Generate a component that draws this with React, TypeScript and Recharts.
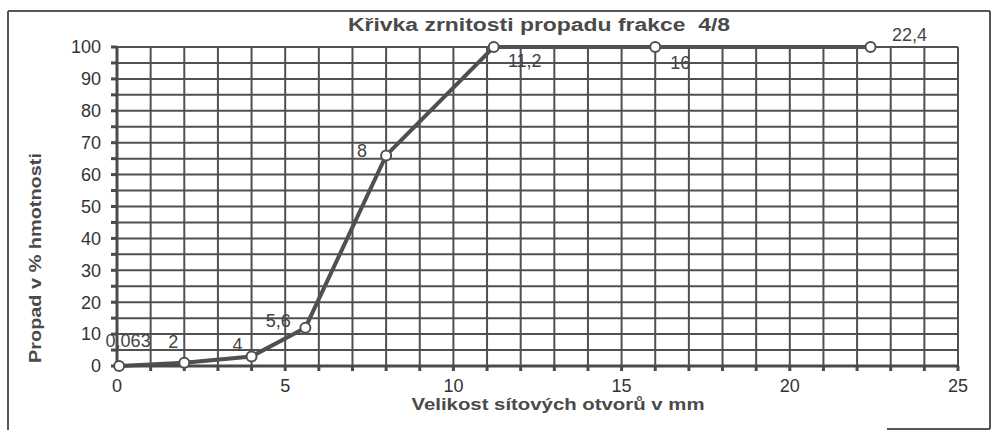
import React from 'react';
import {
  LineChart,
  Line,
  XAxis,
  YAxis,
  CartesianGrid,
  LabelList
} from 'recharts';

// sieve sizes (mm) and passing percentage for fraction 4/8
const sieveSizes = [0.063, 2, 4, 5.6, 8, 11.2, 16, 22.4];
const sieveLabels = ['0,063', '2', '4', '5,6', '8', '11,2', '16', '22,4'];
const passing = [0, 1, 3, 12, 66, 100, 100, 100];

const xTicks = [0, 1, 2, 3, 4, 5, 6, 7, 8, 9, 10, 11, 12, 13, 14, 15, 16, 17, 18, 19, 20, 21, 22, 23, 24, 25];
const yTicks = [0, 5, 10, 15, 20, 25, 30, 35, 40, 45, 50, 55, 60, 65, 70, 75, 80, 85, 90, 95, 100];

const chartData = sieveSizes.map((size, i) => ({
  size,
  pass: passing[i],
  label: sieveLabels[i]
}));

// where each point label sits relative to its marker
const labelShift = [
  [9, -25],
  [-11, -21],
  [-14, -11],
  [-27, -7],
  [-24, -4],
  [31, 14],
  [25, 16],
  [39, -12]
];

const FONT = "Arial, 'Liberation Sans', sans-serif";
const INK = '#4a4a4a';

const renderPointLabel = (props: any) => {
  const { x, y, value, index } = props;
  const [dx, dy] = labelShift[index] || [0, -12];
  return (
    <text
      x={x + dx}
      y={y + dy}
      textAnchor="middle"
      dominantBaseline="central"
      fill="#444"
      fontSize={18}
      fontFamily={FONT}
    >
      {value}
    </text>
  );
};

export default function App() {
  return (
    <div style={{ position: 'absolute', left: 0, top: 0, width: 1002, height: 430, background: '#fff' }}>
      <LineChart
        width={1002}
        height={430}
        data={chartData}
        margin={{ top: 47, right: 44, bottom: 34, left: 57 }}
      >
        <CartesianGrid stroke="#505050" strokeWidth={2} />
        <XAxis
          dataKey="size"
          type="number"
          domain={[0, 25]}
          ticks={xTicks}
          interval={0}
          height={30}
          tickFormatter={(v) => (v % 5 === 0 ? `${v}` : '')}
          tick={{ fill: '#333', fontSize: 18, fontFamily: FONT }}
          tickSize={5}
          tickMargin={8}
          stroke={INK}
          strokeWidth={3}
        />
        <YAxis
          type="number"
          domain={[0, 100]}
          ticks={yTicks}
          interval={0}
          width={60}
          tickFormatter={(v) => (v % 10 === 0 ? `${v}` : '')}
          tick={{ fill: '#333', fontSize: 18, fontFamily: FONT }}
          tickSize={6}
          tickMargin={10}
          stroke={INK}
          strokeWidth={3}
        />
        <Line
          dataKey="pass"
          type="linear"
          stroke="#505050"
          strokeWidth={4}
          dot={{ r: 5, fill: '#fff', stroke: '#505050', strokeWidth: 2 }}
          activeDot={false}
          isAnimationActive={false}
        >
          <LabelList dataKey="label" content={renderPointLabel} />
        </Line>
      </LineChart>

      <svg
        width={1002}
        height={430}
        style={{ position: 'absolute', left: 0, top: 0, pointerEvents: 'none' }}
      >
        <g stroke="#555" strokeWidth={2} fill="none">
          <line x1={8} y1={11} x2={8} y2={430} />
          <line x1={8} y1={11} x2={990} y2={11} />
          <line x1={990} y1={11} x2={990} y2={429} />
          <line x1={887} y1={429} x2={990} y2={429} />
        </g>
        <text
          x={539}
          y={25}
          textAnchor="middle"
          dominantBaseline="central"
          fontSize={18}
          fontWeight="bold"
          fontFamily={FONT}
          fill={INK}
          textLength={382}
          lengthAdjust="spacingAndGlyphs"
          style={{ whiteSpace: 'pre' }}
        >
          Křivka zrnitosti propadu frakce  4/8
        </text>
        <text
          x={558}
          y={404}
          textAnchor="middle"
          dominantBaseline="central"
          fontSize={17}
          fontWeight="bold"
          fontFamily={FONT}
          fill={INK}
          textLength={293}
          lengthAdjust="spacingAndGlyphs"
        >
          Velikost sítových otvorů v mm
        </text>
        <text
          transform="translate(35,258) rotate(-90)"
          textAnchor="middle"
          dominantBaseline="central"
          fontSize={17}
          fontWeight="bold"
          fontFamily={FONT}
          fill={INK}
          textLength={210}
          lengthAdjust="spacingAndGlyphs"
        >
          Propad v % hmotnosti
        </text>
      </svg>
    </div>
  );
}
